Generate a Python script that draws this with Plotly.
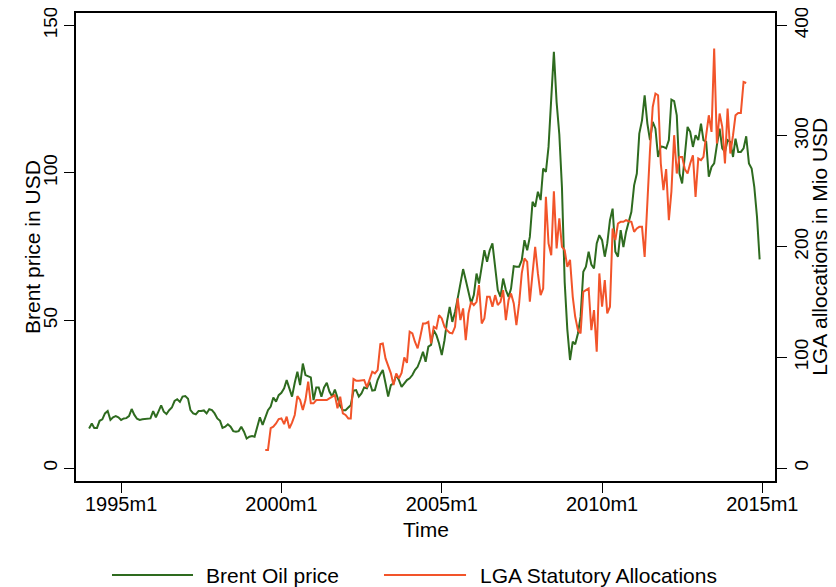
import pandas as pd
import plotly.graph_objects as go

# ---------------- data ----------------
# Brent oil price, USD, monthly 1994m1 .. 2014m12
brent_price = [
    13.4, 15.1, 13.6, 13.6, 16.0, 16.5, 18.5, 19.3, 16.3, 17.2, 17.6, 17.2,   # 1994
    16.3, 16.8, 16.9, 17.6, 20.0, 18.0, 16.7, 16.3, 16.5, 16.6, 16.6, 16.8,   # 1995
    19.3, 17.2, 19.1, 21.2, 19.1, 18.3, 19.6, 20.5, 22.7, 23.3, 22.4, 24.2,   # 1996
    24.4, 23.5, 19.6, 18.5, 18.2, 19.3, 19.3, 19.5, 18.5, 19.9, 19.6, 18.5,   # 1997
    16.8, 16.0, 13.6, 14.0, 14.8, 14.0, 12.5, 12.3, 12.5, 14.0, 12.3, 10.0,   # 1998
    10.6, 10.8, 10.6, 14.2, 17.2, 14.6, 17.4, 19.6, 20.8, 23.9, 22.5, 24.7,   # 1999
    25.5, 27.0, 29.8, 27.3, 24.2, 28.9, 32.6, 28.1, 35.4, 31.5, 31.2, 30.7,   # 2000
    23.0, 27.3, 27.3, 24.2, 27.3, 28.9, 25.9, 24.2, 26.6, 23.5, 21.0, 19.6,   # 2001
    19.6, 20.5, 21.3, 26.2, 26.4, 24.2, 25.3, 27.3, 27.0, 29.2, 26.2, 26.4,   # 2002
    29.8, 31.8, 33.2, 28.7, 24.2, 28.1, 28.7, 31.5, 29.8, 27.5, 28.7, 29.8,   # 2003
    30.4, 31.5, 33.2, 34.3, 36.6, 39.4, 36.0, 41.1, 41.7, 46.7, 45.0, 42.2,   # 2004
    38.3, 43.3, 49.5, 54.6, 49.5, 52.9, 57.5, 62.0, 67.4, 63.7, 59.7, 55.8,   # 2005
    58.6, 65.9, 62.5, 68.7, 73.8, 69.9, 73.8, 76.1, 68.2, 60.3, 58.0, 64.2,   # 2006
    60.3, 58.0, 60.8, 68.4, 68.2, 68.2, 70.4, 77.2, 73.8, 78.3, 90.2, 88.5,   # 2007
    93.6, 90.8, 101.5, 100.3, 108.8, 127.0, 141.0, 124.0, 113.0, 95.0, 63.0, 47.0,  # 2008
    36.6, 42.8, 41.9, 45.6, 51.2, 66.5, 68.2, 73.3, 68.9, 67.6, 76.1, 78.9,   # 2009
    77.2, 71.6, 76.1, 84.0, 87.9, 73.3, 71.6, 80.6, 74.9, 80.0, 83.4, 86.8,   # 2010
    95.8, 99.8, 113.3, 117.8, 126.3, 116.7, 111.1, 117.3, 115.0, 105.4, 109.0, 108.8,  # 2011
    108.3, 111.1, 124.8, 124.3, 119.5, 99.8, 96.4, 106.0, 115.6, 113.9, 108.8, 112.8,  # 2012
    111.1, 116.7, 111.1, 110.5, 98.7, 102.0, 103.2, 109.4, 115.0, 108.3, 107.1, 111.1,  # 2013
    110.5, 105.4, 111.6, 107.1, 107.1, 108.3, 112.4, 103.2, 101.5, 95.3, 85.1, 70.7,   # 2014
]

# LGA statutory allocations, Mio USD, monthly 1999m7 .. 2014m7
lga_allocations = [
    16.3, 16.3, 36.0, 37.3, 40.3, 44.2,                                        # 1999m7-12
    44.8, 39.7, 46.4, 35.8, 41.0, 47.9, 65.0, 61.4, 52.4, 61.4, 78.0, 58.4,   # 2000
    58.4, 61.4, 61.4, 61.4, 62.0, 61.4, 62.9, 64.4, 65.9, 53.9, 64.4, 49.4,   # 2001
    47.9, 44.8, 44.8, 80.4, 78.9, 78.9, 79.5, 79.5, 72.8, 79.5, 87.0, 85.5,   # 2002
    88.5, 112.0, 112.6, 99.0, 91.5, 85.5, 74.9, 85.5, 81.0, 86.0, 100.0, 95.0,  # 2003
    123.1, 121.6, 114.1, 108.1, 118.6, 130.6, 130.6, 132.1, 112.6, 127.6, 126.1, 138.1,  # 2004
    135.1, 127.6, 124.6, 122.2, 121.6, 127.6, 153.2, 133.6, 144.2, 115.6, 139.7, 150.2,  # 2005
    147.2, 150.2, 165.2, 130.6, 135.1, 154.7, 154.7, 145.6, 156.2, 147.2, 150.2, 160.7,  # 2006
    133.6, 152.0, 157.7, 148.7, 129.1, 148.7, 175.8, 189.3, 186.3, 150.2, 175.8, 199.8,  # 2007
    175.8, 156.2, 162.2, 245.0, 202.9, 192.3, 250.0, 198.4, 225.5, 199.8, 196.8, 181.8,  # 2008
    188.0, 154.7, 136.6, 124.6, 121.6, 159.2, 160.7, 162.2, 124.6, 142.7, 105.0, 175.8,  # 2009
    145.7, 169.8, 139.7, 145.7, 216.4, 205.9, 220.9, 222.4, 222.4, 223.9, 223.0, 222.4,  # 2010
    213.4, 216.4, 217.9, 217.9, 190.8, 242.0, 287.1, 326.2, 338.3, 336.8, 275.1, 251.0,  # 2011
    270.0, 223.9, 250.0, 300.7, 266.1, 281.1, 281.1, 270.0, 266.1, 275.1, 282.6, 245.0,  # 2012
    279.6, 278.1, 281.1, 300.7, 318.7, 303.7, 379.0, 293.2, 320.3, 308.2, 275.1, 324.8,  # 2013
    284.1, 300.7, 318.7, 320.8, 320.8, 348.8, 347.9,                           # 2014m1-7
]

brent_start = "1994-01-01"
lga_start = "1999-07-01"

tick_dates = ["1995-01-01", "2000-01-01", "2005-01-01", "2010-01-01", "2015-01-01"]
tick_labels = ["1995m1", "2000m1", "2005m1", "2010m1", "2015m1"]
left_ticks = [0, 50, 100, 150]
right_ticks = [0, 100, 200, 300, 400]

series_names = ["Brent Oil price", "LGA Statutory Allocations"]
axis_titles = ["Time", "Brent price in USD", "LGA allocations in Mio USD"]

# ---------------- figure ----------------
GREEN = "#2e6b1f"
RED = "#f2542a"
FONT = "Liberation Sans"

brent_dates = pd.date_range(brent_start, periods=len(brent_price), freq="MS")
lga_dates = pd.date_range(lga_start, periods=len(lga_allocations), freq="MS")

fig = go.Figure()
fig.add_trace(go.Scatter(x=brent_dates, y=brent_price, mode="lines",
                         line=dict(color=GREEN, width=2), name=series_names[0],
                         yaxis="y"))
fig.add_trace(go.Scatter(x=lga_dates, y=lga_allocations, mode="lines",
                         line=dict(color=RED, width=2), name=series_names[1],
                         yaxis="y2"))

axis_common = dict(showgrid=False, zeroline=False, showline=True,
                   linecolor="black", linewidth=1.5, ticks="outside",
                   ticklen=10, tickwidth=1.3, tickcolor="black",
                   ticklabeloverflow="allow", automargin=False)
y_tickfont = dict(family=FONT, size=19, color="black")
x_tickfont = dict(family=FONT, size=20, color="black")

# the page body adds an 8px offset, so the figure is 8px smaller
fig.update_layout(
    width=828, height=579,
    margin=dict(l=68, r=61, t=5, b=106, autoexpand=False),
    paper_bgcolor="white", plot_bgcolor="white",
    showlegend=False,
    font=dict(family=FONT, size=21, color="black"),
    xaxis=dict(range=["1993-08-05", "2015-05-25"], tickvals=tick_dates,
               ticktext=tick_labels, mirror=True, ticklabelstandoff=-6,
               tickfont=x_tickfont, **axis_common),
    yaxis=dict(range=[-4.40, 154.18], tickvals=left_ticks, tickangle=-90,
               mirror=True, tickfont=y_tickfont, **axis_common),
    yaxis2=dict(range=[-11.74, 411.1], tickvals=right_ticks, tickangle=-90,
                overlaying="y", side="right", ticklabelstandoff=-2,
                tickfont=y_tickfont, **axis_common),
)

# axis titles
title_font = dict(family=FONT, size=21, color="black")
fig.add_annotation(xref="paper", yref="paper", x=0.5, y=-0.1047,
                   xanchor="center", yanchor="middle", showarrow=False,
                   text=axis_titles[0], font=title_font)
fig.add_annotation(xref="paper", yref="paper", x=-0.0629, y=0.5,
                   xanchor="center", yanchor="middle", showarrow=False,
                   textangle=-90, text=axis_titles[1], font=title_font)
fig.add_annotation(xref="paper", yref="paper", x=1.0625, y=0.5,
                   xanchor="center", yanchor="middle", showarrow=False,
                   textangle=-90, text=axis_titles[2], font=title_font)

# legend drawn below the plot (line sample + label)
legend_y = -0.2009
legend_items = [
    (series_names[0], GREEN, 0.0515, 0.1674, 0.183),
    (series_names[1], RED, 0.4406, 0.558, 0.575),
]
for name, color, x0, x1, xt in legend_items:
    fig.add_shape(type="line", xref="paper", yref="paper", x0=x0, x1=x1,
                  y0=legend_y, y1=legend_y, line=dict(color=color, width=2))
    fig.add_annotation(xref="paper", yref="paper", x=xt, y=legend_y,
                       xanchor="left", yanchor="middle", showarrow=False,
                       text=name, font=title_font)

fig.write_html("out.html")
